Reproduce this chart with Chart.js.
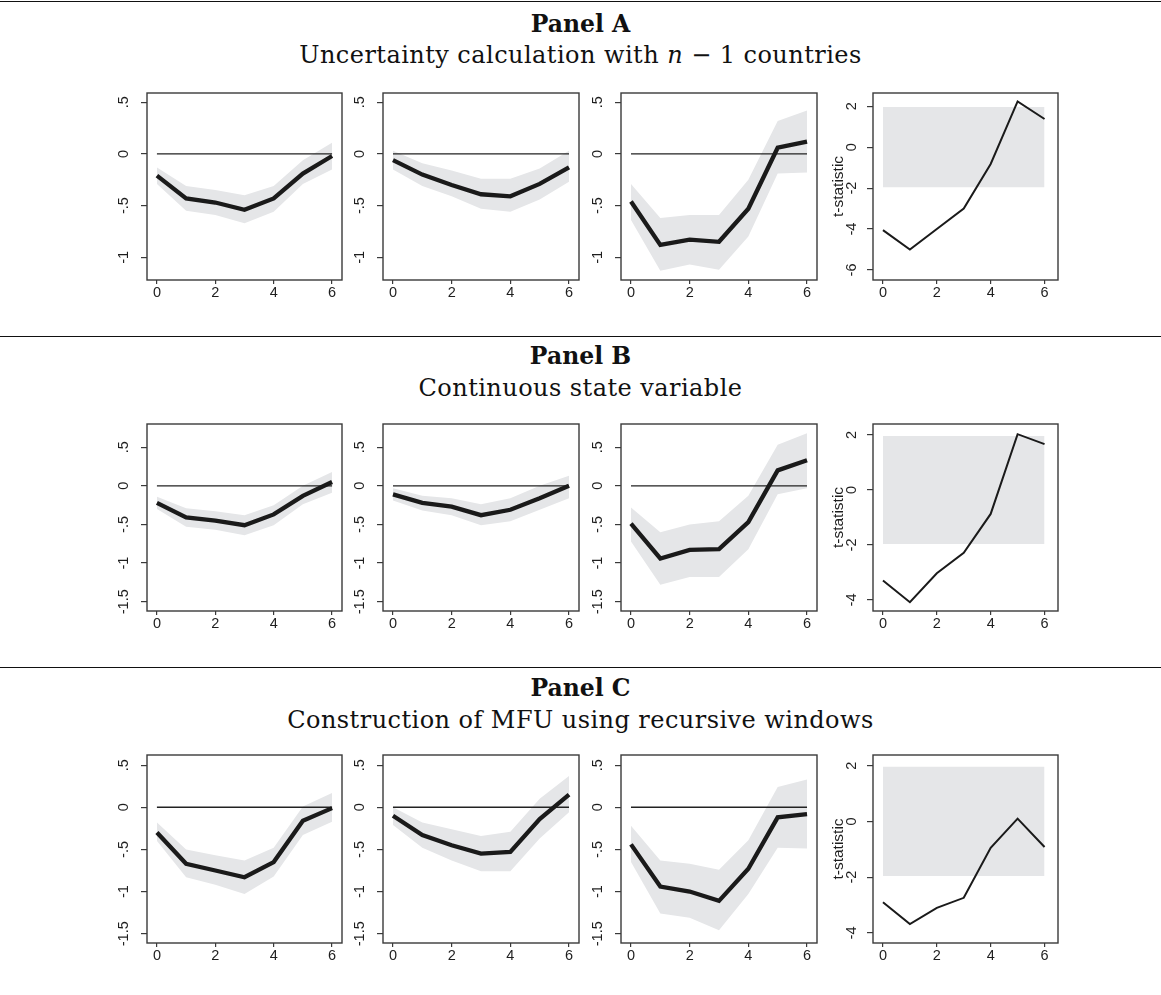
<!DOCTYPE html>
<html>
<head>
<meta charset="utf-8">
<script src="https://cdn.jsdelivr.net/npm/chart.js@4.4.1/dist/chart.umd.min.js"></script>
<style>
  html, body { margin: 0; padding: 0; background: #fff; }
  #page { position: relative; width: 1161px; height: 995px; overflow: hidden; background: #fff; }
  .rule { position: absolute; left: 0; width: 1161px; height: 0; border-top: 1.3px solid #111; }
  .ptitle, .psub { position: absolute; left: 0; width: 1161px; text-align: center; color: #111;
    font-family: "DejaVu Serif", "Liberation Serif", serif; white-space: nowrap; }
  .ptitle { font-weight: bold; font-size: 23.5px; line-height: 28px; }
  .psub { font-size: 24px; line-height: 28px; letter-spacing: 0.45px; }
  canvas { position: absolute; }
</style>
</head>
<body>
<div id="page">
  <div class="rule" style="top:1px"></div>
  <div class="ptitle" style="top:10px">Panel A</div>
  <div class="psub" style="top:41px">Uncertainty calculation with <i>n</i> − 1 countries</div>

  <div class="rule" style="top:336px"></div>
  <div class="ptitle" style="top:342px">Panel B</div>
  <div class="psub" style="top:374px">Continuous state variable</div>

  <div class="rule" style="top:667px"></div>
  <div class="ptitle" style="top:674px">Panel C</div>
  <div class="psub" style="top:706px">Construction of MFU using recursive windows</div>
</div>
<script>
// ── Data ────────────────────────────────────────────────────────
const HORIZON = [0, 1, 2, 3, 4, 5, 6];
const X_TICKS = [0, 2, 4, 6];
const ZERO    = [0, 0, 0, 0, 0, 0, 0];
const T_BAND_HI = [1.96, 1.96, 1.96, 1.96, 1.96, 1.96, 1.96];
const T_BAND_LO = [-1.96, -1.96, -1.96, -1.96, -1.96, -1.96, -1.96];

const Y_TICKS_A  = [-1, -0.5, 0, 0.5];
const Y_TICKS_BC = [-1.5, -1, -0.5, 0, 0.5];
const T_TICKS_A  = [-6, -4, -2, 0, 2];
const T_TICKS_BC = [-4, -2, 0, 2];

// Panel A
const A1_IRF = [-0.21, -0.43, -0.47, -0.54, -0.43, -0.19, -0.02];
const A1_HI  = [-0.13, -0.31, -0.35, -0.40, -0.31, -0.06,  0.11];
const A1_LO  = [-0.29, -0.55, -0.59, -0.67, -0.56, -0.29, -0.15];
const A2_IRF = [-0.06, -0.20, -0.30, -0.39, -0.41, -0.29, -0.13];
const A2_HI  = [ 0.03, -0.09, -0.16, -0.24, -0.24, -0.14,  0.03];
const A2_LO  = [-0.15, -0.31, -0.41, -0.53, -0.56, -0.44, -0.27];
const A3_IRF = [-0.46, -0.88, -0.83, -0.85, -0.53,  0.06,  0.12];
const A3_HI  = [-0.29, -0.62, -0.59, -0.59, -0.25,  0.32,  0.42];
const A3_LO  = [-0.64, -1.13, -1.07, -1.12, -0.80, -0.19, -0.18];
const A4_T   = [-4.05, -5.00, -4.00, -3.00, -0.82,  2.24,  1.38];

// Panel B
const B1_IRF = [-0.22, -0.41, -0.45, -0.51, -0.37, -0.13,  0.05];
const B1_HI  = [-0.14, -0.29, -0.33, -0.38, -0.25,  0.00,  0.18];
const B1_LO  = [-0.30, -0.53, -0.57, -0.64, -0.51, -0.24, -0.09];
const B2_IRF = [-0.11, -0.22, -0.27, -0.38, -0.31, -0.16,  0.00];
const B2_HI  = [-0.03, -0.13, -0.16, -0.24, -0.16,  0.00,  0.13];
const B2_LO  = [-0.19, -0.32, -0.38, -0.51, -0.46, -0.31, -0.16];
const B3_IRF = [-0.49, -0.94, -0.83, -0.82, -0.47,  0.20,  0.33];
const B3_HI  = [-0.28, -0.60, -0.50, -0.46, -0.13,  0.53,  0.68];
const B3_LO  = [-0.72, -1.28, -1.18, -1.18, -0.82, -0.11, -0.03];
const B4_T   = [-3.29, -4.08, -3.03, -2.28, -0.87,  2.03,  1.67];

// Panel C
const C1_IRF = [-0.30, -0.67, -0.75, -0.83, -0.65, -0.16, -0.01];
const C1_HI  = [-0.18, -0.50, -0.57, -0.63, -0.48,  0.01,  0.17];
const C1_LO  = [-0.40, -0.83, -0.92, -1.03, -0.82, -0.33, -0.17];
const C2_IRF = [-0.10, -0.33, -0.45, -0.55, -0.53, -0.14,  0.15];
const C2_HI  = [ 0.00, -0.18, -0.26, -0.34, -0.29,  0.10,  0.37];
const C2_LO  = [-0.21, -0.48, -0.63, -0.76, -0.76, -0.37, -0.06];
const C3_IRF = [-0.44, -0.94, -1.00, -1.11, -0.73, -0.12, -0.08];
const C3_HI  = [-0.22, -0.63, -0.67, -0.74, -0.39,  0.24,  0.33];
const C3_LO  = [-0.65, -1.26, -1.31, -1.46, -1.03, -0.48, -0.49];
const C4_T   = [-2.90, -3.68, -3.10, -2.74, -0.95,  0.10, -0.92];

// ── Layout (plot-box edges in page pixels) ──────────────────────
const COLS = [[147, 342], [383, 579], [621, 817], [873, 1058]];
const ROWS = [[93, 280], [424, 611], [755, 943]];
const PAD_L = 45, PAD_R = 5, PAD_T = 5, PAD_B = 25;

const INK   = "#1a1a1a";
const FRAME = "#3a3a3a";
const BAND  = "#e5e6e8";
const TICK_FONT = { family: "'Liberation Sans', Arial, sans-serif", size: 14.5 };

const pts = ys => HORIZON.map((x, i) => ({ x, y: ys[i] }));
const stataLabel = v => String(v).replace("0.", ".");

// frame + rotated y labels, Stata style
const stataAxes = {
  id: "stataAxes",
  afterDraw(chart, _, opts) {
    const { ctx, chartArea: a } = chart;
    const ys = chart.scales.y;
    ctx.save();
    ctx.strokeStyle = FRAME;
    ctx.lineWidth = 1.4;
    ctx.strokeRect(a.left, a.top, a.right - a.left, a.bottom - a.top);
    ctx.fillStyle = "#1e1e1e";
    ctx.font = `${TICK_FONT.size}px ${TICK_FONT.family}`;
    ctx.textAlign = "center";
    ctx.textBaseline = "middle";
    ys.ticks.forEach(t => {
      const py = ys.getPixelForValue(t.value);
      ctx.save();
      ctx.translate(a.left - opts.labelOffset, py);
      ctx.rotate(-Math.PI / 2);
      ctx.fillText(stataLabel(t.value), 0, 0);
      ctx.restore();
    });
    ctx.restore();
  },
};

function makeChart(col, row, spec) {
  const [l, r] = COLS[col], [t, b] = ROWS[row];
  const cv = document.createElement("canvas");
  const w = r - l + PAD_L + PAD_R, h = b - t + PAD_T + PAD_B;
  cv.width = w; cv.height = h;
  cv.style.left = (l - PAD_L) + "px";
  cv.style.top = (t - PAD_T) + "px";
  cv.style.width = w + "px"; cv.style.height = h + "px";
  document.getElementById("page").appendChild(cv);

  const isT = spec.kind === "t";
  const datasets = isT ? [
    { data: pts(spec.line), borderColor: INK, borderWidth: 2 },
    { data: pts(T_BAND_HI), borderWidth: 0, fill: "+1", backgroundColor: BAND },
    { data: pts(T_BAND_LO), borderWidth: 0 },
  ] : [
    { data: pts(spec.line), borderColor: INK, borderWidth: 4.3, borderJoinStyle: "miter" },
    { data: pts(ZERO), borderColor: "#222", borderWidth: 1.3 },
    { data: pts(spec.hi), borderWidth: 0, fill: "+1", backgroundColor: BAND },
    { data: pts(spec.lo), borderWidth: 0 },
  ];
  datasets.forEach(d => { d.pointRadius = 0; d.tension = 0; if (d.fill === undefined) d.fill = false; });

  new Chart(cv.getContext("2d"), {
    type: "line",
    data: { datasets },
    plugins: [stataAxes],
    options: {
      responsive: false,
      animation: false,
      events: [],
      layout: { padding: { left: 0, top: PAD_T, right: PAD_R, bottom: 0 } },
      plugins: {
        legend: { display: false },
        tooltip: { enabled: false },
        filler: { drawTime: "beforeDatasetsDraw" },
        stataAxes: { labelOffset: isT ? 21 : 23 },
      },
      scales: {
        x: {
          type: "linear",
          min: isT ? -0.37 : -0.34,
          max: isT ? 6.5 : 6.34,
          afterBuildTicks: s => { s.ticks = X_TICKS.map(v => ({ value: v })); },
          afterFit: s => { s.height = PAD_B; },
          grid: { display: true, drawOnChartArea: false, drawTicks: true, tickLength: 4, color: FRAME, lineWidth: 1.2 },
          border: { display: false },
          ticks: { font: TICK_FONT, color: "#1e1e1e", padding: 0, maxRotation: 0 },
        },
        y: {
          type: "linear",
          min: spec.yMin,
          max: spec.yMax,
          afterBuildTicks: s => { s.ticks = spec.yTicks.map(v => ({ value: v })); },
          afterFit: s => { s.width = PAD_L; },
          grid: { display: true, drawOnChartArea: false, drawTicks: true, tickLength: 6, color: FRAME, lineWidth: 1.2 },
          border: { display: false },
          ticks: { display: false },
          title: {
            display: isT,
            text: "t-statistic",
            color: "#1e1e1e",
            font: { family: TICK_FONT.family, size: 15.5 },
            padding: { top: 1, bottom: 0 },
          },
        },
      },
    },
  });
}

// Panel A
makeChart(0, 0, { line: A1_IRF, hi: A1_HI, lo: A1_LO, yMin: -1.22, yMax: 0.59, yTicks: Y_TICKS_A });
makeChart(1, 0, { line: A2_IRF, hi: A2_HI, lo: A2_LO, yMin: -1.22, yMax: 0.59, yTicks: Y_TICKS_A });
makeChart(2, 0, { line: A3_IRF, hi: A3_HI, lo: A3_LO, yMin: -1.22, yMax: 0.59, yTicks: Y_TICKS_A });
makeChart(3, 0, { kind: "t", line: A4_T, yMin: -6.49, yMax: 2.65, yTicks: T_TICKS_A });
// Panel B
makeChart(0, 1, { line: B1_IRF, hi: B1_HI, lo: B1_LO, yMin: -1.62, yMax: 0.80, yTicks: Y_TICKS_BC });
makeChart(1, 1, { line: B2_IRF, hi: B2_HI, lo: B2_LO, yMin: -1.62, yMax: 0.80, yTicks: Y_TICKS_BC });
makeChart(2, 1, { line: B3_IRF, hi: B3_HI, lo: B3_LO, yMin: -1.62, yMax: 0.80, yTicks: Y_TICKS_BC });
makeChart(3, 1, { kind: "t", line: B4_T, yMin: -4.4, yMax: 2.4, yTicks: T_TICKS_BC });
// Panel C
makeChart(0, 2, { line: C1_IRF, hi: C1_HI, lo: C1_LO, yMin: -1.61, yMax: 0.62, yTicks: Y_TICKS_BC });
makeChart(1, 2, { line: C2_IRF, hi: C2_HI, lo: C2_LO, yMin: -1.61, yMax: 0.62, yTicks: Y_TICKS_BC });
makeChart(2, 2, { line: C3_IRF, hi: C3_HI, lo: C3_LO, yMin: -1.61, yMax: 0.62, yTicks: Y_TICKS_BC });
makeChart(3, 2, { kind: "t", line: C4_T, yMin: -4.36, yMax: 2.38, yTicks: T_TICKS_BC });
</script>
</body>
</html>
